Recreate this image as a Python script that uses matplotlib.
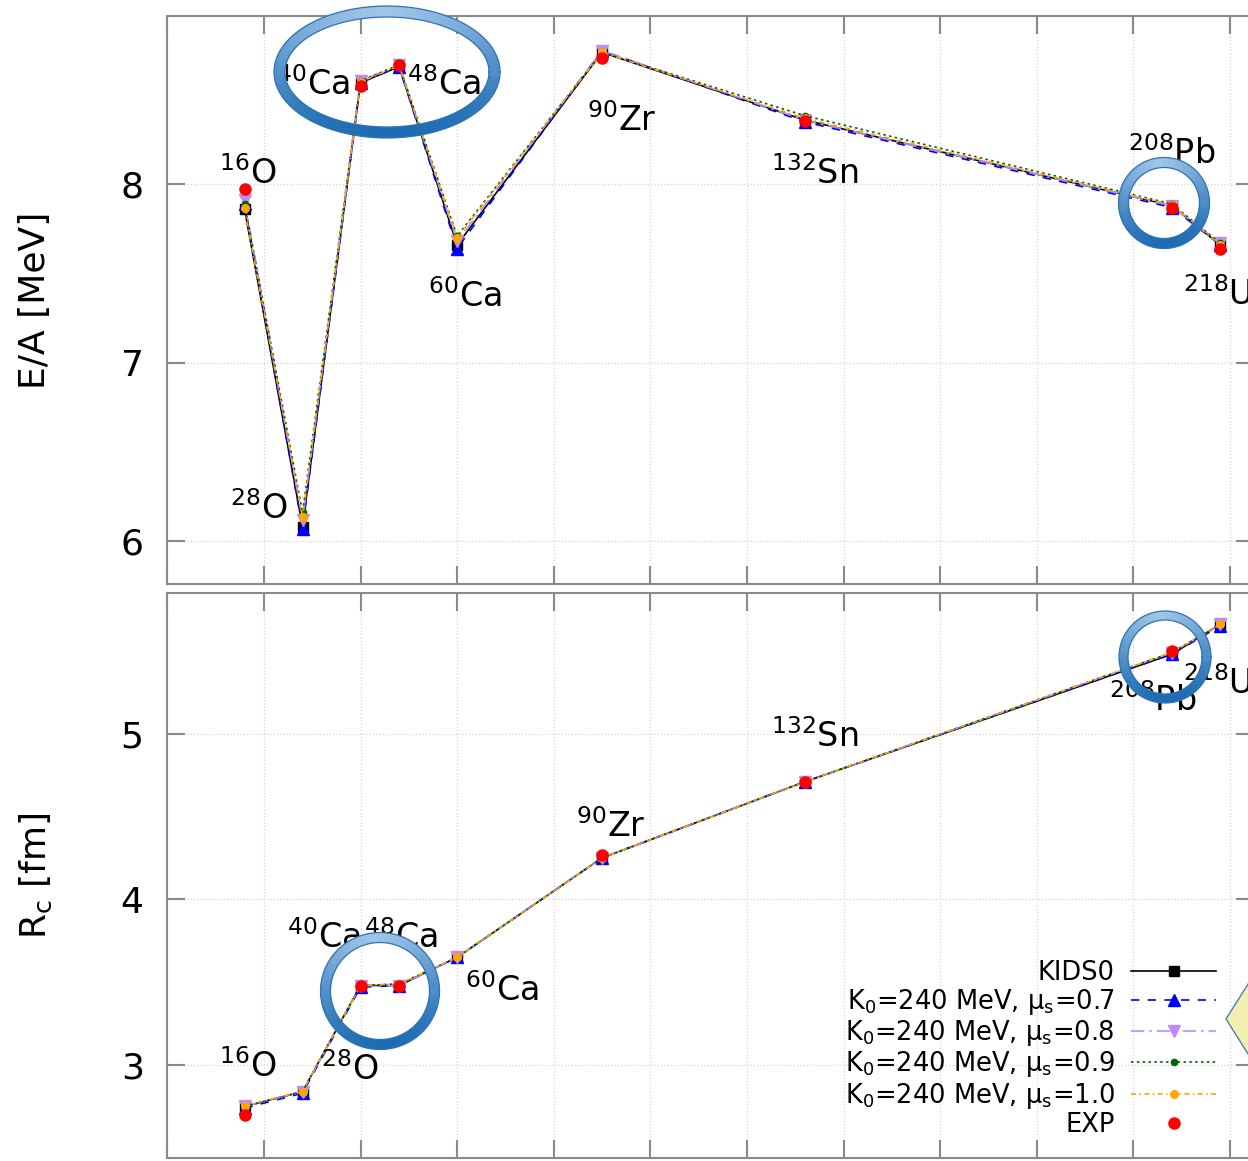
import numpy as np
import matplotlib
matplotlib.use('Agg')
import matplotlib.pyplot as plt
from matplotlib.collections import LineCollection
from matplotlib.lines import Line2D
from matplotlib.patches import Polygon
import matplotlib.colors as mcolors

nan = np.nan

### Nuclei and mass numbers (x axis)
nuclei = ['$^{16}$O', '$^{28}$O', '$^{40}$Ca', '$^{48}$Ca', '$^{60}$Ca',
          '$^{90}$Zr', '$^{132}$Sn', '$^{208}$Pb', '$^{218}$U']
mass = [16, 28, 40, 48, 60, 90, 132, 208, 218]

### Binding energy per nucleon E/A [MeV]
ea_kids0 = [7.86, 6.08, 8.57, 8.66, 7.66, 8.74, 8.36, 7.88, 7.66]
ea_mu07 = [7.89, 6.07, 8.57, 8.66, 7.64, 8.75, 8.35, 7.87, 7.66]
ea_mu08 = [7.91, 6.12, 8.58, 8.67, 7.68, 8.75, 8.36, 7.88, 7.67]
ea_mu09 = [7.89, 6.16, 8.58, 8.67, 7.71, 8.74, 8.385, 7.89, 7.67]
ea_mu10 = [7.865, 6.135, 8.575, 8.665, 7.70, 8.74, 8.37, 7.885, 7.66]
ea_exp = [7.976, nan, 8.551, 8.667, nan, 8.710, 8.355, 7.867, 7.64]

### Charge radius Rc [fm]
rc_kids0 = [2.75, 2.84, 3.48, 3.48, 3.65, 4.25, 4.71, 5.48, 5.66]
rc_mu07 = [2.74, 2.83, 3.47, 3.48, 3.65, 4.25, 4.71, 5.48, 5.65]
rc_mu08 = [2.75, 2.84, 3.48, 3.48, 3.65, 4.25, 4.71, 5.49, 5.66]
rc_mu09 = [2.75, 2.84, 3.48, 3.49, 3.65, 4.25, 4.71, 5.49, 5.66]
rc_mu10 = [2.755, 2.84, 3.48, 3.49, 3.65, 4.25, 4.71, 5.49, 5.66]
rc_exp = [2.699, nan, 3.478, 3.477, nan, 4.269, 4.709, 5.501, nan]

legend_labels = ['KIDS0',
                 'K$_{\\rm 0}$=240 MeV, \u03bc$_{\\rm s}$=0.7',
                 'K$_{\\rm 0}$=240 MeV, \u03bc$_{\\rm s}$=0.8',
                 'K$_{\\rm 0}$=240 MeV, \u03bc$_{\\rm s}$=0.9',
                 'K$_{\\rm 0}$=240 MeV, \u03bc$_{\\rm s}$=1.0',
                 'EXP']

# label positions for nucleus names (data coords)
ea_lab_x = [16.6, 18.9, 30.2, 57.3, 61.5, 94.0, 134.0, 207.9, 210.3]
ea_lab_y = [8.06, 6.18, 8.56, 8.56, 7.37, 8.36, 8.06, 8.17, 7.38]
rc_lab_x = [16.6, 37.7, 32.5, 48.3, 69.3, 91.9, 134.0, 204.0, 210.3]
rc_lab_y = [2.99, 2.97, 3.77, 3.77, 3.45, 4.44, 4.98, 5.20, 5.30]

W, H = 1248, 1161
fig = plt.figure(figsize=(W / 100, H / 100), dpi=100)
plt.rcParams['font.family'] = 'DejaVu Sans'
plt.rcParams['mathtext.fontset'] = 'dejavusans'

styles = [
    dict(color='black', ls='-', marker='s', ms=7, lw=1.2),
    dict(color='#0000ff', ls=(0, (5, 5)), marker='^', ms=8, lw=1.2),
    dict(color='#bb8cf7', ls=(0, (8, 3, 1.5, 3)), marker='v', ms=8, lw=1.2),
    dict(color='#006400', ls=(0, (1.5, 2)), marker='o', ms=4.5, lw=1.2),
    dict(color='#ffa500', ls=(0, (3, 2, 1, 2)), marker='o', ms=5.5, lw=1.2),
]


def px_axes(left, top, right, bottom):
    return fig.add_axes([left / W, 1 - bottom / H, (right - left) / W, (bottom - top) / H])


def style_axes(ax, yticks, ylim):
    ax.set_xlim(0, 225)
    ax.set_ylim(*ylim)
    ax.set_xticks(np.arange(0, 221, 20))
    ax.set_yticks(yticks)
    ax.grid(True, color='#d4d4d4', ls=':', lw=0.9)
    for s in ax.spines.values():
        s.set_color('#8a8a8a')
        s.set_linewidth(1.5)
    ax.tick_params(direction='in', top=True, right=True, length=13, width=1.5,
                   color='#8a8a8a', labelsize=26, pad=17, labelbottom=False)


xscale = 4.83
ax1 = px_axes(167.3, 16, 167.3 + 225 * xscale, 584)
ax2 = px_axes(167.3, 592.7, 167.3 + 225 * xscale, 1158)

ea_sets = [ea_kids0, ea_mu07, ea_mu08, ea_mu09, ea_mu10]
rc_sets = [rc_kids0, rc_mu07, rc_mu08, rc_mu09, rc_mu10]

handles = []
for ax, sets, exp in [(ax1, ea_sets, ea_exp), (ax2, rc_sets, rc_exp)]:
    hs = []
    for vals, st in zip(sets, styles):
        h, = ax.plot(mass, vals, color=st['color'], ls=st['ls'], lw=st['lw'],
                     marker=st['marker'], ms=st['ms'], mec=st['color'], mfc=st['color'])
        hs.append(h)
    h, = ax.plot(mass, exp, ls='none', marker='o', ms=8, color='#ff0000')
    hs.append(h)
    handles = hs

style_axes(ax1, [6, 7, 8], (5.759, 8.944))
style_axes(ax2, [3, 4, 5], (2.439, 5.851))

ax1.set_ylabel('E/A [MeV]', fontsize=26)
ax2.set_ylabel('R$_{\\rm c}$ [fm]', fontsize=26)
ax1.yaxis.set_label_coords(-0.106, 0.5)
ax2.yaxis.set_label_coords(-0.104, 0.5)

for name, x, y in zip(nuclei, ea_lab_x, ea_lab_y):
    ha = 'left' if 'U' in name else 'center'
    ax1.text(x, y, name, fontsize=24, ha=ha, va='center', clip_on=False)
for name, x, y in zip(nuclei, rc_lab_x, rc_lab_y):
    ha = 'left' if 'U' in name else 'center'
    ax2.text(x, y, name, fontsize=24, ha=ha, va='center', clip_on=False)

leg = ax2.legend(handles, legend_labels, loc='lower right', markerfirst=False,
                 frameon=False, fontsize=18.5, numpoints=1, handlelength=3.3,
                 handletextpad=0.65, labelspacing=0.05, borderpad=0, borderaxespad=0,
                 bbox_to_anchor=(1216 / W, 1 - 1138 / H), bbox_transform=fig.transFigure)


### blue highlight rings drawn over the chart
def ring(cx, cy, rx, ry, w):
    t = np.linspace(0, 2 * np.pi, 400)
    xs = cx + rx * np.cos(t)
    ys = cy + ry * np.sin(t)
    pts = np.column_stack([xs / W, 1 - ys / H])
    segs = np.stack([pts[:-1], pts[1:]], axis=1)
    frac = ((ys[:-1] + ys[1:]) / 2 - (cy - ry)) / (2 * ry)
    light = np.array(mcolors.to_rgb('#9fc4e8'))
    dark = np.array(mcolors.to_rgb('#1e6cb3'))
    cols = [light + (dark - light) * f ** 0.7 for f in frac]
    lc = LineCollection(segs, colors=cols, linewidths=w * 0.72,
                        transform=fig.transFigure, capstyle='round')
    fig.add_artist(lc)
    for d in (-w / 2, w / 2):
        fig.add_artist(Line2D((cx + (rx + d) * np.cos(t)) / W, 1 - (cy + (ry + d) * np.sin(t)) / H,
                              color='#2e75b6', lw=0.9, transform=fig.transFigure))


ring(387, 72, 107.5, 60.5, 11)
ring(1164, 203, 40.5, 40.5, 10)
ring(380, 991, 54.5, 53.5, 10)
ring(1165, 657, 41.5, 41.5, 9)

# partially visible yellow callout at the right edge
diamond = Polygon(np.array([[1226, 1019], [1262, 962], [1298, 1019], [1262, 1076]]) / [W, H] * [1, -1] + [0, 1],
                  closed=True, facecolor='#f2efb0', edgecolor='#4a7fc0', lw=1,
                  transform=fig.transFigure)
fig.add_artist(diamond)

plt.savefig('out.png', dpi=100)
